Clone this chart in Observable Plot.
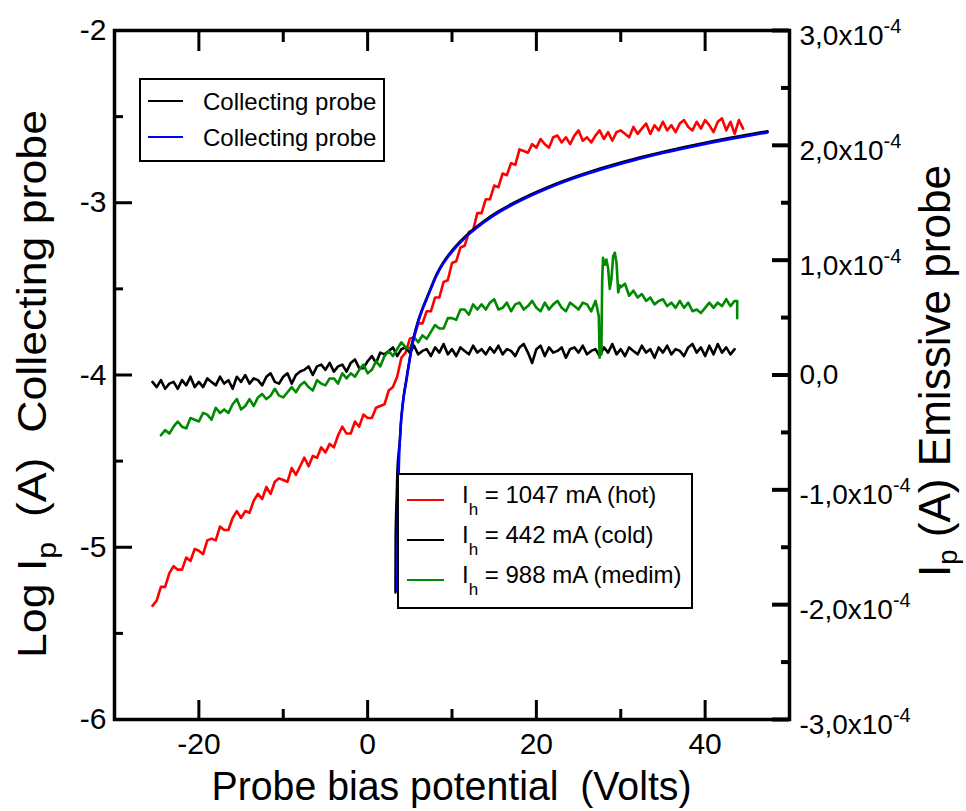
<!DOCTYPE html>
<html><head><meta charset="utf-8">
<script src="https://cdn.jsdelivr.net/npm/d3@7"></script>
<script src="https://cdn.jsdelivr.net/npm/@observablehq/plot@0.6"></script>
<style>
body{margin:0;background:#fff;}
#chart{width:966px;height:811px;}
</style></head><body><div id="chart"></div>
<script>
// ---------- data ----------
const step = 0.5;
// hot emissive probe (Ih = 1047 mA), log Ip, x starts at -25.5 V
const hotX0 = -25.5;
const hotY = [-5.34,-5.31,-5.23,-5.23,-5.15,-5.11,-5.13,-5.13,-5.06,-5.08,
-5.01,-5.02,-5.04,-4.96,-4.95,-4.96,-4.88,-4.90,-4.90,-4.83,
-4.79,-4.83,-4.79,-4.80,-4.73,-4.69,-4.72,-4.65,-4.69,-4.62,
-4.60,-4.61,-4.62,-4.54,-4.58,-4.53,-4.48,-4.53,-4.47,-4.48,
-4.42,-4.45,-4.40,-4.42,-4.35,-4.30,-4.34,-4.34,-4.27,-4.30,
-4.23,-4.25,-4.25,-4.19,-4.18,-4.17,-4.09,-4.07,-4.01,-3.90,
-3.87,-3.79,-3.78,-3.70,-3.70,-3.63,-3.63,-3.55,-3.55,-3.46,
-3.45,-3.35,-3.34,-3.26,-3.25,-3.17,-3.16,-3.06,-3.06,-2.98,
-2.98,-2.90,-2.91,-2.83,-2.84,-2.77,-2.78,-2.69,-2.70,-2.71,
-2.66,-2.68,-2.63,-2.66,-2.68,-2.62,-2.61,-2.65,-2.62,-2.66,
-2.61,-2.58,-2.64,-2.62,-2.65,-2.61,-2.58,-2.63,-2.59,-2.64,
-2.59,-2.58,-2.60,-2.62,-2.56,-2.60,-2.57,-2.54,-2.60,-2.55,
-2.58,-2.53,-2.58,-2.55,-2.59,-2.54,-2.52,-2.56,-2.58,-2.53,
-2.57,-2.52,-2.55,-2.59,-2.53,-2.51,-2.58,-2.53,-2.60,-2.52,-2.57];
// cold emissive probe (Ih = 442 mA), x starts at -25.5 V
const coldX0 = -25.5;
const coldY = [-4.04,-4.07,-4.03,-4.08,-4.05,-4.04,-4.08,-4.03,-4.06,-4.01,
-4.07,-4.04,-4.07,-4.02,-4.04,-4.06,-4.01,-4.05,-4.03,-4.08,
-4.01,-4.04,-4.00,-4.05,-4.02,-4.03,-4.06,-4.01,-3.99,-4.04,
-4.05,-4.01,-3.99,-4.05,-4.00,-3.98,-3.97,-3.95,-4.00,-3.95,
-3.94,-3.97,-3.93,-3.98,-3.95,-3.94,-3.98,-3.93,-3.91,-3.96,
-3.96,-3.92,-3.89,-3.93,-3.87,-3.88,-3.86,-3.84,-3.89,-3.85,
-3.84,-3.87,-3.83,-3.88,-3.86,-3.85,-3.89,-3.84,-3.87,-3.82,
-3.88,-3.85,-3.89,-3.84,-3.86,-3.88,-3.83,-3.87,-3.85,-3.88,
-3.84,-3.87,-3.83,-3.88,-3.85,-3.86,-3.89,-3.84,-3.82,-3.87,
-3.93,-3.85,-3.83,-3.89,-3.84,-3.87,-3.86,-3.84,-3.90,-3.85,
-3.84,-3.87,-3.83,-3.88,-3.86,-3.85,-3.89,-3.84,-3.87,-3.82,
-3.88,-3.85,-3.89,-3.84,-3.86,-3.88,-3.83,-3.87,-3.85,-3.90,
-3.84,-3.87,-3.83,-3.88,-3.85,-3.86,-3.89,-3.84,-3.82,-3.87,
-3.84,-3.89,-3.83,-3.88,-3.82,-3.87,-3.84,-3.88,-3.85];
// medium emissive probe (Ih = 988 mA)
const medX0a = -24.5;
const medYa = [-4.35,-4.32,-4.34,-4.30,-4.27,-4.30,-4.31,-4.25,-4.26,-4.27,
-4.22,-4.23,-4.26,-4.19,-4.22,-4.20,-4.22,-4.17,-4.14,-4.20,
-4.18,-4.14,-4.18,-4.13,-4.11,-4.14,-4.12,-4.08,-4.12,-4.13,
-4.10,-4.07,-4.10,-4.06,-4.04,-4.07,-4.09,-4.03,-4.05,-4.06,
-4.02,-4.02,-4.05,-3.99,-4.02,-3.99,-4.01,-3.97,-3.94,-3.99,
-3.97,-3.92,-3.95,-3.89,-3.86,-3.89,-3.85,-3.81,-3.84,-3.85,
-3.78,-3.81,-3.77,-3.79,-3.75,-3.71,-3.73,-3.73,-3.67,-3.67,
-3.68,-3.62,-3.62,-3.65,-3.59,-3.62,-3.59,-3.62,-3.58,-3.56,
-3.62,-3.61,-3.58,-3.63,-3.59,-3.58,-3.62,-3.60,-3.57,-3.61,
-3.63,-3.58,-3.62,-3.59,-3.57,-3.61,-3.63,-3.58,-3.60,-3.62,
-3.58,-3.59,-3.63,-3.57];
const medSpike = [[27.2,-3.61],[27.4,-3.66],[27.5,-3.90],[27.6,-3.82],[27.7,-3.88],[27.8,-3.45],[27.9,-3.32],[28.1,-3.36],[28.3,-3.33],[28.5,-3.38],[28.7,-3.50],[28.9,-3.44],[29.1,-3.31],[29.3,-3.29],[29.5,-3.35],[29.7,-3.52],[29.9,-3.48]];
const medX0b = 30;
const medYb = [-3.49,-3.47,-3.54,-3.51,-3.55,-3.53,-3.57,-3.55,-3.59,-3.57,
-3.56,-3.60,-3.58,-3.61,-3.57,-3.61,-3.58,-3.63,-3.62,-3.64,
-3.61,-3.58,-3.61,-3.58,-3.60,-3.56,-3.60,-3.57];
const medTail = [[43.8,-3.57],[43.8,-3.67]];
// collecting probe (blue) and its black twin
const collectBlue = [[3.5,-5.25],[3.56,-5.0],[3.6,-4.8],[3.67,-4.6],[3.8,-4.4],[4.0,-4.25],[4.3,-4.12],[4.6,-4.03],[4.86,-3.95],[5.1,-3.88],[5.45,-3.79],[6.0,-3.69],[6.5,-3.62],[7.0,-3.56],[7.5,-3.50],[8.2,-3.42],[9.0,-3.35],[10.0,-3.285],[11.0,-3.23],[12.2,-3.175],[13.8,-3.113],[15.4,-3.06],[17.3,-3.008],[19.3,-2.96],[21.2,-2.919],[23.2,-2.88],[26.2,-2.829],[29.2,-2.785],[32.1,-2.746],[35.1,-2.71],[38.0,-2.679],[41.0,-2.649],[43.0,-2.63],[45.0,-2.612],[47.4,-2.592]];
const collectBlackLow = [[3.3,-5.27],[3.32,-4.95],[3.45,-4.7],[3.6,-4.5]];

// axes
const xMajor = [-20, 0, 20, 40], xMinor = [-10, 10, 30];
const yMajor = [-2, -3, -4, -5, -6], yMinor = [-2.5, -3.5, -4.5, -5.5];
const rightVals = [3e-4, 2e-4, 1e-4, 0, -1e-4, -2e-4, -3e-4];
const rightMinorVals = [2.5e-4, 1.5e-4, 0.5e-4, -0.5e-4, -1.5e-4, -2.5e-4];
const rightMant = ["3,0x10","2,0x10","1,0x10","0,0","-1,0x10","-2,0x10","-3,0x10"];
const rightExp = ["-4","-4","-4","","-4","-4","-4"];
const xTitle = "Probe bias potential  (Volts)";
const legendTop = [{label:"Collecting probe", color:"#000000"},{label:"Collecting probe", color:"#0000ff"}];
const legendBottom = [
  {main:"I", sub:"h", rest:" = 1047 mA (hot)", color:"#ff0000"},
  {main:"I", sub:"h", rest:" = 442 mA (cold)", color:"#000000"},
  {main:"I", sub:"h", rest:" = 988 mA (medim)", color:"#008a00"}];

// ---------- build ----------
const pts = (x0, ys) => ys.map((y, i) => ({x: x0 + i * step, y}));
const pairs = a => a.map(([x, y]) => ({x, y}));
const hot = pts(hotX0, hotY);
const cold = pts(coldX0, coldY);
const med = [...pts(medX0a, medYa), ...pairs(medSpike), ...pts(medX0b, medYb), ...pairs(medTail)];
const blue = pairs(collectBlue);
const blackCollect = [...pairs(collectBlackLow), ...pairs(collectBlue.slice(4))];
const toLeft = v => +(-4 + v / 1.5e-4).toFixed(6);
const rightPos = rightVals.map(toLeft);
const rightMinorPos = rightMinorVals.map(toLeft);
const rightLabel = d => { const i = rightPos.findIndex(p => Math.abs(p - d) < 1e-6); return rightMant[i] + (rightExp[i] ? "|" + rightExp[i] : ""); };

const W = 966, H = 811, mL = 114, mR = 177, mT = 30, mB = 92;
const iW = W - mL - mR, iH = H - mT - mB;
const FONT = '"Liberation Sans", Arial, Helvetica, sans-serif';

const chart = Plot.plot({
  width: W, height: H, marginLeft: mL, marginRight: mR, marginTop: mT, marginBottom: mB,
  x: {domain: [-30, 50], label: null},
  y: {domain: [-6, -2], label: null},
  style: {fontFamily: FONT, fontSize: "30px", color: "black", background: "white", overflow: "visible"},
  marks: [
    Plot.line(hot, {x: "x", y: "y", stroke: "#ff0000", strokeWidth: 2.6}),
    Plot.line(cold, {x: "x", y: "y", stroke: "#000000", strokeWidth: 2.6}),
    Plot.line(med, {x: "x", y: "y", stroke: "#008a00", strokeWidth: 2.6}),
    Plot.line(blackCollect, {x: "x", y: "y", stroke: "#000000", strokeWidth: 2.5, dy: -1.2, curve: "monotone-y"}),
    Plot.line(blue, {x: "x", y: "y", stroke: "#0000ff", strokeWidth: 2.5, curve: "monotone-y"}),
    Plot.frame({stroke: "black", strokeWidth: 3.5}),
    Plot.ruleX(xMajor, {insetTop: iH - 19, strokeWidth: 3}),
    Plot.ruleX(xMinor, {insetTop: iH - 10, strokeWidth: 3}),
    Plot.ruleX(xMajor, {insetBottom: iH - 21, strokeWidth: 3}),
    Plot.ruleX(xMinor, {insetBottom: iH - 12, strokeWidth: 3}),
    Plot.ruleY(yMajor, {insetRight: iW - 18, strokeWidth: 3}),
    Plot.ruleY(yMinor, {insetRight: iW - 9, strokeWidth: 3}),
    Plot.ruleY(rightPos, {insetLeft: iW - 17, strokeWidth: 4}),
    Plot.ruleY(rightMinorPos, {insetLeft: iW - 8, strokeWidth: 4}),
    Plot.axisX(xMajor, {tickSize: 0, tickPadding: 13, tickFormat: d => String(d), label: null}),
    Plot.axisY(yMajor, {anchor: "left", tickSize: 0, tickPadding: 8, tickFormat: d => String(d), label: null}),
    Plot.axisY(rightPos, {anchor: "right", tickSize: 0, tickPadding: 10, textAnchor: "start", tickFormat: rightLabel, label: null, fontSize: 28})
  ]
});
document.getElementById("chart").appendChild(chart);

const svg = d3.select(chart);
// superscripts on the right axis labels
svg.selectAll("text").each(function () {
  const t = this.textContent;
  if (t.includes("|")) {
    const [m, e] = t.split("|");
    this.textContent = m;
    d3.select(this).append("tspan").attr("dy", "-0.6em").attr("font-size", "20px").text(e);
    if (this.getAttribute("dy")) this.setAttribute("dy", "0.52em"); else this.setAttribute("dy", "0.2em");
  }
});

// axis titles
svg.append("text").attr("x", mL + iW / 2).attr("y", 800).attr("text-anchor", "middle")
  .attr("font-family", FONT).attr("font-size", 40).attr("textLength", 480).attr("lengthAdjust", "spacingAndGlyphs")
  .style("white-space", "pre").text(xTitle);
const lt = svg.append("text").attr("transform", "translate(46,658) rotate(-90)").attr("text-anchor", "start")
  .attr("font-family", FONT).attr("font-size", 40).attr("textLength", 548).attr("lengthAdjust", "spacingAndGlyphs")
  .style("white-space", "pre");
lt.append("tspan").text("Log I");
lt.append("tspan").attr("dy", 10).attr("font-size", 27).text("p");
lt.append("tspan").attr("dy", -10).text("  (A)  Collecting probe");
const rt = svg.append("text").attr("transform", "translate(950,577) rotate(-90)").attr("text-anchor", "start")
  .attr("font-family", FONT).attr("font-size", 45).attr("textLength", 412).attr("lengthAdjust", "spacingAndGlyphs")
  .style("white-space", "pre");
rt.append("tspan").text("I");
rt.append("tspan").attr("dy", 7).attr("font-size", 28).text("p");
rt.append("tspan").attr("dy", -7).text(" (A) Emissive probe");

// legend boxes
const lg1 = svg.append("g").attr("font-family", FONT).attr("font-size", 24).attr("text-anchor", "start");
lg1.append("rect").attr("x", 140).attr("y", 79).attr("width", 244).attr("height", 82).attr("fill", "white").attr("stroke", "black").attr("stroke-width", 2);
legendTop.forEach((e, i) => {
  const y = 101 + i * 36;
  lg1.append("line").attr("x1", 148).attr("x2", 183).attr("y1", y).attr("y2", y).attr("stroke", e.color).attr("stroke-width", 2);
  lg1.append("text").attr("x", 203).attr("y", y + 9).attr("text-anchor", "start").text(e.label);
});
const lg2 = svg.append("g").attr("font-family", FONT).attr("font-size", 24).attr("text-anchor", "start");
lg2.append("rect").attr("x", 398).attr("y", 474).attr("width", 294).attr("height", 134).attr("fill", "white").attr("stroke", "black").attr("stroke-width", 2);
legendBottom.forEach((e, i) => {
  const y = 500 + i * 40;
  lg2.append("line").attr("x1", 407).attr("x2", 444).attr("y1", y).attr("y2", y).attr("stroke", e.color).attr("stroke-width", 2);
  const t = lg2.append("text").attr("x", 462).attr("y", y + 3).attr("text-anchor", "start").style("white-space", "pre");
  t.append("tspan").text(e.main);
  t.append("tspan").attr("dy", 12).attr("font-size", 17).text(e.sub);
  t.append("tspan").attr("dy", -12).text(e.rest);
});
</script></body></html>
